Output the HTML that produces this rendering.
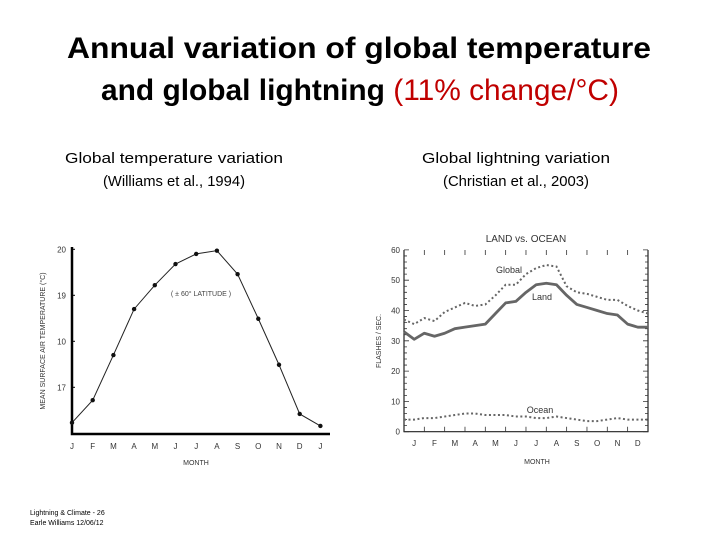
<!DOCTYPE html>
<html><head><meta charset="utf-8"><style>
html,body{margin:0;padding:0;background:#fff;}
svg{display:block;font-family:"Liberation Sans",sans-serif;}
</style></head><body>
<svg id="s" width="720" height="540" viewBox="0 0 720 540">
<text x="359" y="58" font-size="30" font-weight="bold" text-anchor="middle" textLength="584" lengthAdjust="spacingAndGlyphs">Annual variation of global temperature</text>
<text x="101" y="100" font-size="30" font-weight="bold" textLength="518" lengthAdjust="spacingAndGlyphs">and global lightning <tspan fill="#c00000" font-weight="normal">(11% change/°C)</tspan></text>
<text x="174" y="163" font-size="15" text-anchor="middle" textLength="218" lengthAdjust="spacingAndGlyphs">Global temperature variation</text>
<text x="174" y="186" font-size="15" text-anchor="middle" textLength="142" lengthAdjust="spacingAndGlyphs">(Williams et al., 1994)</text>
<text x="516" y="163" font-size="15" text-anchor="middle" textLength="188" lengthAdjust="spacingAndGlyphs">Global lightning variation</text>
<text x="516" y="186" font-size="15" text-anchor="middle" textLength="146" lengthAdjust="spacingAndGlyphs">(Christian et al., 2003)</text>
<text x="30" y="515" font-size="7">Lightning &amp; Climate -  26</text>
<text x="30" y="525" font-size="7">Earle Williams 12/06/12</text>
<g id="left"></g>
<g id="right"></g>
</svg>
<script>
// Left chart data
const tMonths = ["J","F","M","A","M","J","J","A","S","O","N","D","J"];
const tValues = [16.23,16.72,17.7,18.7,19.22,19.68,19.9,19.97,19.46,18.49,17.49,16.42,16.16];
const tTicks = [17,18,19,20];
const tTickLabels = ["17","10","19","20"];
// Right chart data (half-month samples)
const lMonths = ["J","F","M","A","M","J","J","A","S","O","N","D"];
const landVals = [33,30.5,32.5,31.5,32.5,34,34.5,35,35.5,39,42.5,43,46,48.5,49,48.5,45,42,41,40,39,38.5,35.5,34.5,34.5];
const globalVals = [37,35.5,37.5,36.5,39.5,41,42.5,41.5,42,45,48.5,48.5,52,54,55,54.5,48,46,45.5,44.5,43.5,43.5,41.5,40,39];
const oceanVals = [4,4,4.5,4.5,5,5.5,6,6,5.5,5.5,5.5,5,5,4.5,4.5,5,4.5,4,3.5,3.5,4,4.5,4,4,4];
const lTicks = [0,10,20,30,40,50,60];
const lTickLabels = ["0","10","20","30","40","50","60"];

const NS="http://www.w3.org/2000/svg";
function mk(parent,tag,attrs,text){const e=document.createElementNS(NS,tag);for(const k in attrs)e.setAttribute(k,attrs[k]);if(text!==undefined)e.textContent=text;parent.appendChild(e);return e;}

// LEFT
const L=document.getElementById('left');
const lx=i=>72+i*20.7;
const ly=v=>249.3+(20-v)*46;
let e;
e=mk(L,'path',{d:'M72 247 V434 H330',stroke:'#000','stroke-width':2.5,fill:'none'});


tTicks.forEach((t,i)=>{
  e=mk(L,'line',{x1:72,x2:75,y1:ly(t),y2:ly(t),stroke:'#000'});
  
  
  e=mk(L,'text',{x:66,y:ly(t)+3,'font-size':8,'text-anchor':'end',fill:'#333'},tTickLabels[i]);
  
  
});
tMonths.forEach((m,i)=>{
  e=mk(L,'text',{x:lx(i),y:449,'font-size':8,'text-anchor':'middle',fill:'#333'},m);
  
  
});
e=mk(L,'text',{x:196,y:465,'font-size':7,'text-anchor':'middle',fill:'#333'},'MONTH');


e=mk(L,'text',{x:0,y:0,'font-size':7,'text-anchor':'middle',fill:'#333',transform:'translate(45,341) rotate(-90)'},'MEAN SURFACE AIR TEMPERATURE (°C)');


e=mk(L,'text',{x:201,y:296,'font-size':7,'text-anchor':'middle',fill:'#444'},'( ± 60° LATITUDE )');


e=mk(L,'polyline',{points:tValues.map((v,i)=>lx(i)+','+ly(v)).join(' '),stroke:'#222','stroke-width':1,fill:'none'});


tValues.forEach((v,i)=>{
  e=mk(L,'circle',{cx:lx(i),cy:ly(v),r:2.2,fill:'#111'});
  
  
});

// RIGHT
const R=document.getElementById('right');
const rx=m=>404+m*20.33;
const ry=v=>431.7-v*3.03;
e=mk(R,'path',{d:'M404 250 V431.7 H648 V250',fill:'none',stroke:'#222','stroke-width':1.2});


for(let v=0;v<=60;v+=2){
  const len=v%10===0?5:3;
  e=mk(R,'path',{d:`M404 ${ry(v)} h${len} M648 ${ry(v)} h-${len}`,stroke:'#333','stroke-width':0.8});
  
  
}
lTicks.forEach((t,i)=>{
  e=mk(R,'text',{x:400,y:ry(t)+3,'font-size':8,'text-anchor':'end',fill:'#333'},lTickLabels[i]);
  
  
});
lMonths.forEach((m,i)=>{
  if(i>0){
    e=mk(R,'path',{d:`M${rx(i)} 250 v5 M${rx(i)} 431.7 v-5`,stroke:'#333','stroke-width':0.8});
    
    
  }
  e=mk(R,'text',{x:rx(i+0.5),y:446,'font-size':8,'text-anchor':'middle',fill:'#333'},m);
  
  
});
e=mk(R,'text',{x:537,y:464,'font-size':7,'text-anchor':'middle',fill:'#333'},'MONTH');


e=mk(R,'text',{x:0,y:0,'font-size':7,'text-anchor':'middle',fill:'#333',transform:'translate(381,341) rotate(-90)'},'FLASHES / SEC.');


e=mk(R,'text',{x:526,y:242,'font-size':10,'text-anchor':'middle',fill:'#333'},'LAND vs. OCEAN');


const pts=a=>a.map((v,i)=>rx(i*0.5)+','+ry(v)).join(' ');
e=mk(R,'polyline',{points:pts(globalVals),stroke:'#666','stroke-width':2,'stroke-dasharray':'2,2.5',fill:'none'});


e=mk(R,'polyline',{points:pts(landVals),stroke:'#666','stroke-width':2.8,fill:'none','stroke-linejoin':'round'});


e=mk(R,'polyline',{points:pts(oceanVals),stroke:'#666','stroke-width':2,'stroke-dasharray':'2,2.5',fill:'none'});


e=mk(R,'text',{x:509,y:273,'font-size':9,'text-anchor':'middle',fill:'#333'},'Global');


e=mk(R,'text',{x:542,y:300,'font-size':9,'text-anchor':'middle',fill:'#333'},'Land');


e=mk(R,'text',{x:540,y:413,'font-size':9,'text-anchor':'middle',fill:'#333'},'Ocean');


</script>
</body></html>
